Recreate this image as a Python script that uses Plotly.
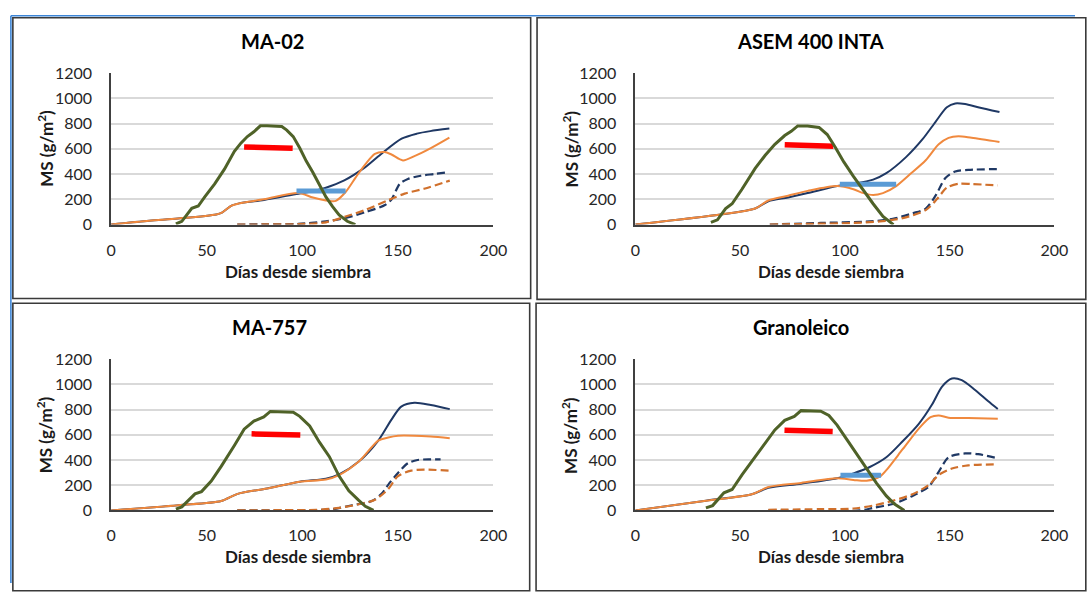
import plotly.graph_objects as go

FONT = "Lato"

panel_titles = ["MA-02", "ASEM 400 INTA", "MA-757", "Granoleico"]
x_ticks = [0, 50, 100, 150, 200]
y_ticks = [0, 200, 400, 600, 800, 1000, 1200]
x_title = "Días desde siembra"
y_title = "MS (g/m<sup>2</sup>)"

# ---------------- MA-02 ----------------
ma02_azul_x = [0, 20, 35, 55, 58, 63, 67, 80, 98, 105, 112, 122, 133, 141, 152, 160, 167, 177]
ma02_azul_y = [0, 30, 48, 80, 95, 150, 168, 195, 245, 262, 290, 350, 455, 555, 680, 720, 740, 760]
ma02_nar_x = [0, 20, 35, 55, 58, 63, 67, 80, 98, 105.6, 114, 117.6, 122.7, 128, 133, 138, 143, 146.7, 152.7, 158.7, 167.3, 177]
ma02_nar_y = [0, 30, 48, 80, 95, 150, 168, 200, 250, 214, 188, 188, 258, 374, 477, 560, 575, 555, 508, 542, 606, 689]
ma02_azul_g_x = [66, 80, 98, 112.4, 122.7, 133, 143.3, 146.7, 151, 155.3, 162, 169, 175.8]
ma02_azul_g_y = [0, 2, 5, 26, 52, 98, 155, 199, 322, 361, 387, 400, 413]
ma02_nar_g_x = [66, 80, 98, 112.4, 122.7, 133, 145, 153.6, 163.8, 177.2]
ma02_nar_g_y = [0, 1, 3, 18, 64, 116, 193, 245, 284, 348]
ma02_verde_x = [33.9, 37, 42.2, 45.6, 49, 54.2, 59.3, 64.5, 67.9, 71.3, 74.7, 78.1, 81.6, 89.3, 91.9, 95.3, 98.7, 102.1, 105.6, 109, 112.4, 115.9, 119.3, 123.6, 127.8]
ma02_verde_y = [5, 26, 129, 147, 219, 322, 439, 580, 645, 697, 735, 782, 782, 776, 748, 697, 606, 503, 413, 310, 219, 142, 77, 26, 0]
ma02_rojo_x = [69.6, 95]
ma02_rojo_y = [615, 605]
ma02_celeste_x = [97, 122.7]
ma02_celeste_y = [265, 265]

# ---------------- ASEM 400 INTA ----------------
asem_azul_x = [0, 41.5, 57.2, 63.5, 72.9, 82.3, 96.4, 104.1, 113.5, 119.8, 129.2, 137, 143.3, 148.7, 152.7, 157.4, 163.6, 173.8]
asem_azul_y = [0, 81, 127, 185, 215, 250, 305, 323, 356, 407, 534, 674, 814, 929, 959, 954, 929, 891]
asem_nar_x = [0, 41.5, 57.2, 63.5, 72.9, 82.3, 96.4, 104.1, 108.9, 113.5, 118.2, 124.5, 130.8, 138.6, 144.8, 149.5, 154.2, 160.5, 173.8]
asem_nar_y = [0, 81, 127, 191, 229, 267, 305, 280, 249, 234, 249, 305, 394, 509, 636, 687, 700, 687, 654]
asem_azul_g_x = [64.2, 88.5, 111.9, 122.9, 132.3, 138.6, 143.3, 148, 152.7, 158.9, 173.8]
asem_azul_g_y = [0, 13, 25, 46, 89, 127, 229, 369, 420, 433, 440]
asem_nar_g_x = [64.2, 80.7, 104.1, 116.7, 127.6, 138.6, 144.1, 148.7, 154.2, 160.5, 173]
asem_nar_g_y = [0, 5, 13, 25, 51, 115, 204, 293, 323, 321, 310]
asem_verde_x = [36.1, 39.2, 43.1, 46.2, 50.9, 57.2, 61.9, 66.6, 71.3, 74.4, 77.5, 82.2, 87.7, 91.6, 95.5, 99.5, 104.1, 108.9, 113.5, 118.2, 121.4, 123.2]
asem_verde_y = [18, 38, 127, 165, 280, 445, 547, 636, 705, 738, 781, 781, 769, 713, 611, 496, 382, 267, 165, 64, 25, 0]
asem_rojo_x = [71.3, 94.5]
asem_rojo_y = [632, 620]
asem_celeste_x = [97.6, 124.5]
asem_celeste_y = [320, 320]

# ---------------- MA-757 ----------------
ma757_azul_x = [0, 35.3, 57.6, 66.2, 81.6, 98.7, 112.4, 119.3, 129.6, 139.8, 146.7, 151.8, 158.7, 167.3, 177.2]
ma757_azul_y = [0, 41, 74, 131, 174, 228, 251, 285, 387, 554, 720, 823, 854, 836, 803]
ma757_nar_x = [0, 35.3, 57.6, 66.2, 81.6, 98.7, 112.4, 119.3, 129.6, 139.8, 145, 150.1, 158.7, 167.3, 177.2]
ma757_nar_y = [0, 41, 74, 131, 174, 228, 245, 280, 387, 554, 578, 592, 592, 585, 572]
ma757_azul_g_x = [66, 90, 107, 115.9, 126.1, 136.4, 141.5, 145.8, 150.1, 155.3, 160.4, 167.3, 172.4]
ma757_azul_g_y = [0, 0, 2, 10, 41, 74, 131, 220, 297, 374, 400, 405, 405]
ma757_nar_g_x = [66, 90, 107.3, 119.3, 129.6, 138.1, 145, 150.1, 157, 163.8, 177.2]
ma757_nar_g_y = [0, 2, 5, 20, 49, 85, 169, 272, 315, 323, 315]
ma757_verde_x = [33.9, 37, 43.9, 47.3, 52.4, 57.6, 64.5, 69.6, 74.7, 79.9, 83.3, 95.3, 98.7, 103.9, 109, 114.2, 119.3, 124.4, 129.6, 133, 137.3]
ma757_verde_y = [10, 28, 131, 149, 233, 349, 515, 644, 708, 741, 785, 779, 746, 669, 541, 426, 272, 156, 79, 33, 0]
ma757_rojo_x = [73.5, 99]
ma757_rojo_y = [607, 598]

# ---------------- Granoleico ----------------
gran_azul_x = [0, 33.7, 55.6, 63.5, 79.1, 96.3, 104.1, 111.9, 119.8, 127.6, 135.4, 141.7, 146.4, 151.1, 155.8, 162, 168.3, 173]
gran_azul_y = [0, 77, 128, 179, 212, 255, 293, 344, 421, 548, 689, 842, 982, 1046, 1033, 957, 867, 804]
gran_nar_x = [0, 33.7, 55.6, 63.5, 79.1, 96.3, 104.1, 110.4, 116.7, 119.8, 127.6, 135.4, 140.9, 144.8, 149.5, 158.9, 173]
gran_nar_y = [0, 77, 128, 185, 218, 255, 242, 235, 268, 319, 485, 651, 740, 753, 735, 732, 727]
gran_azul_g_x = [63.5, 107.3, 113.5, 122.9, 132.3, 140.2, 144.8, 149.5, 157.4, 163.6, 173]
gran_azul_g_y = [0, 0, 20, 51, 115, 191, 306, 421, 452, 446, 413]
gran_nar_g_x = [63.5, 88.5, 104.1, 113.5, 122.9, 132.3, 140.2, 144.8, 151.1, 158.9, 173]
gran_nar_g_y = [5, 10, 15, 38, 77, 128, 204, 281, 332, 357, 365]
gran_verde_x = [33.7, 36.9, 42.3, 46.2, 50.9, 57.2, 61.9, 66.6, 71.3, 75.9, 79.1, 88.5, 92.4, 96.3, 101, 105.7, 110.4, 115.1, 119.8, 123.7, 128.4]
gran_verde_y = [20, 38, 140, 166, 281, 421, 531, 638, 714, 745, 791, 786, 753, 676, 561, 446, 332, 217, 115, 51, 0]
gran_rojo_x = [71.2, 94.2]
gran_rojo_y = [635, 625]
gran_celeste_x = [97.9, 117.3]
gran_celeste_y = [278, 278]

panels = [
    dict(azul=(ma02_azul_x, ma02_azul_y), nar=(ma02_nar_x, ma02_nar_y),
         azul_g=(ma02_azul_g_x, ma02_azul_g_y), nar_g=(ma02_nar_g_x, ma02_nar_g_y),
         verde=(ma02_verde_x, ma02_verde_y), rojo=(ma02_rojo_x, ma02_rojo_y),
         celeste=(ma02_celeste_x, ma02_celeste_y)),
    dict(azul=(asem_azul_x, asem_azul_y), nar=(asem_nar_x, asem_nar_y),
         azul_g=(asem_azul_g_x, asem_azul_g_y), nar_g=(asem_nar_g_x, asem_nar_g_y),
         verde=(asem_verde_x, asem_verde_y), rojo=(asem_rojo_x, asem_rojo_y),
         celeste=(asem_celeste_x, asem_celeste_y)),
    dict(azul=(ma757_azul_x, ma757_azul_y), nar=(ma757_nar_x, ma757_nar_y),
         azul_g=(ma757_azul_g_x, ma757_azul_g_y), nar_g=(ma757_nar_g_x, ma757_nar_g_y),
         verde=(ma757_verde_x, ma757_verde_y), rojo=(ma757_rojo_x, ma757_rojo_y),
         celeste=None),
    dict(azul=(gran_azul_x, gran_azul_y), nar=(gran_nar_x, gran_nar_y),
         azul_g=(gran_azul_g_x, gran_azul_g_y), nar_g=(gran_nar_g_x, gran_nar_g_y),
         verde=(gran_verde_x, gran_verde_y), rojo=(gran_rojo_x, gran_rojo_y),
         celeste=(gran_celeste_x, gran_celeste_y)),
]

W, H = 1089, 592
def px(x):
    return x / W
def py(y):
    return 1 - y / H

# plot areas in pixels (x0, x1, ytop, ybottom)
areas = [(108, 497, 65, 221.7), (641.5, 1068, 65, 221.7),
         (108, 497, 360.5, 517), (641.5, 1068, 360.5, 517)]
frames = [(8, 535, 8, 298), (541.5, 1100, 8, 299),
          (8, 534, 303, 600), (540.5, 1100, 303, 600)]
title_pos = [(272, 32), (820, 32), (269, 328), (810, 328)]
xt_pos = [(298, 270), (841, 270), (298, 565), (841, 565)]
yt_pos = [(41, 143), (575, 143), (41, 439), (575, 439)]

NAVY = "#1f3864"
ORANGE = "#f0893e"
ORANGE_D = "#d0702c"
GREEN = "#4f6228"
RED = "#ff0000"
LBLUE = "#5b9bd5"

fig = go.Figure()
layout = {}
shapes = []
annotations = []

for i, p in enumerate(panels):
    n = "" if i == 0 else str(i + 1)
    xa, ya = "x" + n, "y" + n
    x0, x1, yt, yb = areas[i]

    def add(xy, color, width, dash="solid", shape="spline"):
        fig.add_trace(go.Scatter(x=xy[0], y=xy[1], mode="lines", xaxis=xa, yaxis=ya,
                                 line=dict(color=color, width=width, dash=dash, shape=shape,
                                           smoothing=0.8 if shape == "spline" else None),
                                 showlegend=False, hoverinfo="skip"))

    add(p["azul_g"], NAVY, 2.2, dash="8px,4px")
    add(p["nar_g"], ORANGE_D, 2.2, dash="8px,4px")
    add(p["azul"], NAVY, 2)
    add(p["nar"], ORANGE, 2)
    if p["celeste"] is not None:
        add(p["celeste"], LBLUE, 5, shape="linear")
    add(p["rojo"], RED, 5.5, shape="linear")
    add(p["verde"], GREEN, 3, shape="linear")

    layout["xaxis" + n] = dict(domain=[px(x0), px(x1)], anchor=ya, range=[0, 200],
                               tickvals=x_ticks, showgrid=False, zeroline=False,
                               showline=True, linecolor="#404040", linewidth=1.6,
                               ticks="", ticklabelstandoff=10,
                               tickfont=dict(family=FONT, size=16, color="#262626"))
    layout["yaxis" + n] = dict(domain=[py(yb), py(yt)], anchor=xa, range=[0, 1201],
                               tickvals=y_ticks, showgrid=True, gridcolor="#d9d9d9",
                               gridwidth=1.6, zeroline=False, showline=True,
                               linecolor="#404040", linewidth=1.6, ticks="",
                               ticklabelstandoff=14,
                               tickfont=dict(family=FONT, size=16, color="#262626"))

    fx0, fx1, fy0, fy1 = frames[i]
    shapes.append(dict(type="rect", xref="paper", yref="paper",
                       x0=px(fx0), x1=px(fx1), y0=py(fy1), y1=py(fy0),
                       line=dict(color="#3a3a3a", width=1.6), fillcolor="rgba(0,0,0,0)"))

    tx, ty = title_pos[i]
    annotations.append(dict(text="<b>%s</b>" % panel_titles[i], x=px(tx), y=py(ty),
                            xref="paper", yref="paper", showarrow=False,
                            xanchor="center", yanchor="middle",
                            font=dict(family=FONT, size=20, color="#000000")))
    tx, ty = xt_pos[i]
    annotations.append(dict(text="<b>%s</b>" % x_title, x=px(tx), y=py(ty),
                            xref="paper", yref="paper", showarrow=False,
                            xanchor="center", yanchor="middle",
                            font=dict(family=FONT, size=17, color="#1a1a1a")))
    tx, ty = yt_pos[i]
    annotations.append(dict(text="<b>%s</b>" % y_title, x=px(tx), y=py(ty),
                            xref="paper", yref="paper", showarrow=False, textangle=-90,
                            xanchor="center", yanchor="middle",
                            font=dict(family=FONT, size=17, color="#1a1a1a")))

# selection-like blue border on top and left
shapes.append(dict(type="line", xref="paper", yref="paper", x0=px(6), x1=1.0,
                   y0=py(6), y1=py(6), line=dict(color="#3d85d6", width=1.6)))
shapes.append(dict(type="line", xref="paper", yref="paper", x0=px(6), x1=px(6),
                   y0=py(6), y1=0, line=dict(color="#3d85d6", width=1.6)))

fig.update_layout(width=W, height=H, margin=dict(l=0, r=0, t=0, b=0),
                  paper_bgcolor="white", plot_bgcolor="white",
                  shapes=shapes, annotations=annotations, showlegend=False, **layout)

js = (
    "document.documentElement.style.margin='0';"
    "document.documentElement.style.padding='0';"
    "document.documentElement.style.overflow='hidden';"
    "document.body.style.margin='0';"
    "document.body.style.padding='0';"
    "document.body.style.overflow='hidden';"
    "var gd=document.getElementById('{plot_id}');"
    "gd.style.position='fixed';gd.style.left='0px';gd.style.top='0px';"
)

fig.write_html("out.html", config=dict(displayModeBar=False), post_script=js)
